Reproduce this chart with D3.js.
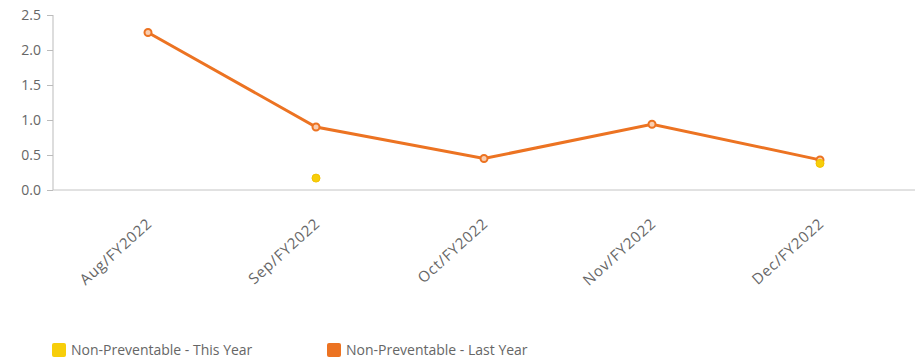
<!DOCTYPE html>
<html><head><meta charset="utf-8">
<script src="https://cdn.jsdelivr.net/npm/d3@7"></script>
<style>body{margin:0;background:#fff;font-family:"Open Sans",sans-serif;}</style>
</head><body><svg id="c" width="920" height="362"></svg>
<script>
const categories = ["Aug/FY2022","Sep/FY2022","Oct/FY2022","Nov/FY2022","Dec/FY2022"];
const thisYear = [null, 0.17, null, null, 0.38];
const lastYear = [2.25, 0.9, 0.45, 0.94, 0.43];
const yTicks = [0, 0.5, 1.0, 1.5, 2.0, 2.5];
const seriesNames = ["Non-Preventable - This Year","Non-Preventable - Last Year"];
const colors = ["#F7CE0A","#EC7322"];

const svg = d3.select("#c");
const x = d3.scaleBand().domain(categories).range([64, 904]);
const y = d3.scaleLinear().domain([0, 2.5]).range([190, 15]);
const cx = d => x(d) + x.bandwidth()/2;

// y axis
const ya = svg.append("g").attr("transform","translate(53,0)")
  .call(d3.axisLeft(y).tickValues(yTicks).tickFormat(d3.format(".1f")).tickSize(6).tickPadding(6));
ya.select(".domain").attr("stroke","#bbb").attr("d","M0,15V190");
ya.selectAll(".tick line").attr("stroke","#bbb");
ya.selectAll(".tick text").attr("fill","#666").style("font-size","14px").style("font-family","Open Sans");

// x axis line
svg.append("line").attr("x1",53).attr("x2",915).attr("y1",y(0)).attr("y2",y(0)).attr("stroke","#c4c4c4").attr("stroke-width",1);

// x labels
svg.append("g").selectAll("text").data(categories).join("text")
  .attr("transform", d => `translate(${cx(d)+5},${y(0)+35}) rotate(-42)`)
  .attr("text-anchor","end").attr("fill","#666")
  .style("font-size","15px").style("font-family","Open Sans").style("letter-spacing","0.8px")
  .text(d => d);

// last year line
const line = d3.line().defined(d => d.v != null).x(d => cx(d.c)).y(d => y(d.v));
const ly = categories.map((c,i) => ({c, v:lastYear[i]}));
svg.append("path").datum(ly).attr("d", line).attr("fill","none").attr("stroke",colors[1]).attr("stroke-width",3);
svg.append("g").selectAll("circle").data(ly).join("circle")
  .attr("cx", d => cx(d.c)).attr("cy", d => y(d.v)).attr("r",3.5)
  .attr("fill","#f9cdb0").attr("stroke",colors[1]).attr("stroke-width",2);

// this year points
const ty = categories.map((c,i) => ({c, v:thisYear[i]})).filter(d => d.v != null);
svg.append("g").selectAll("circle").data(ty).join("circle")
  .attr("cx", d => cx(d.c)).attr("cy", d => y(d.v)).attr("r",4)
  .attr("fill",colors[0]).attr("stroke","#f2c200").attr("stroke-width",1);

// legend
const lg = svg.append("g");
const lx = [52, 327];
seriesNames.forEach((n,i) => {
  lg.append("rect").attr("x",lx[i]).attr("y",343).attr("width",14).attr("height",14).attr("rx",2).attr("fill",colors[i]);
  lg.append("text").attr("x",lx[i]+19).attr("y",355).attr("fill","#666")
    .style("font-size","14px").style("font-family","Open Sans").text(n);
});
</script></body></html>
